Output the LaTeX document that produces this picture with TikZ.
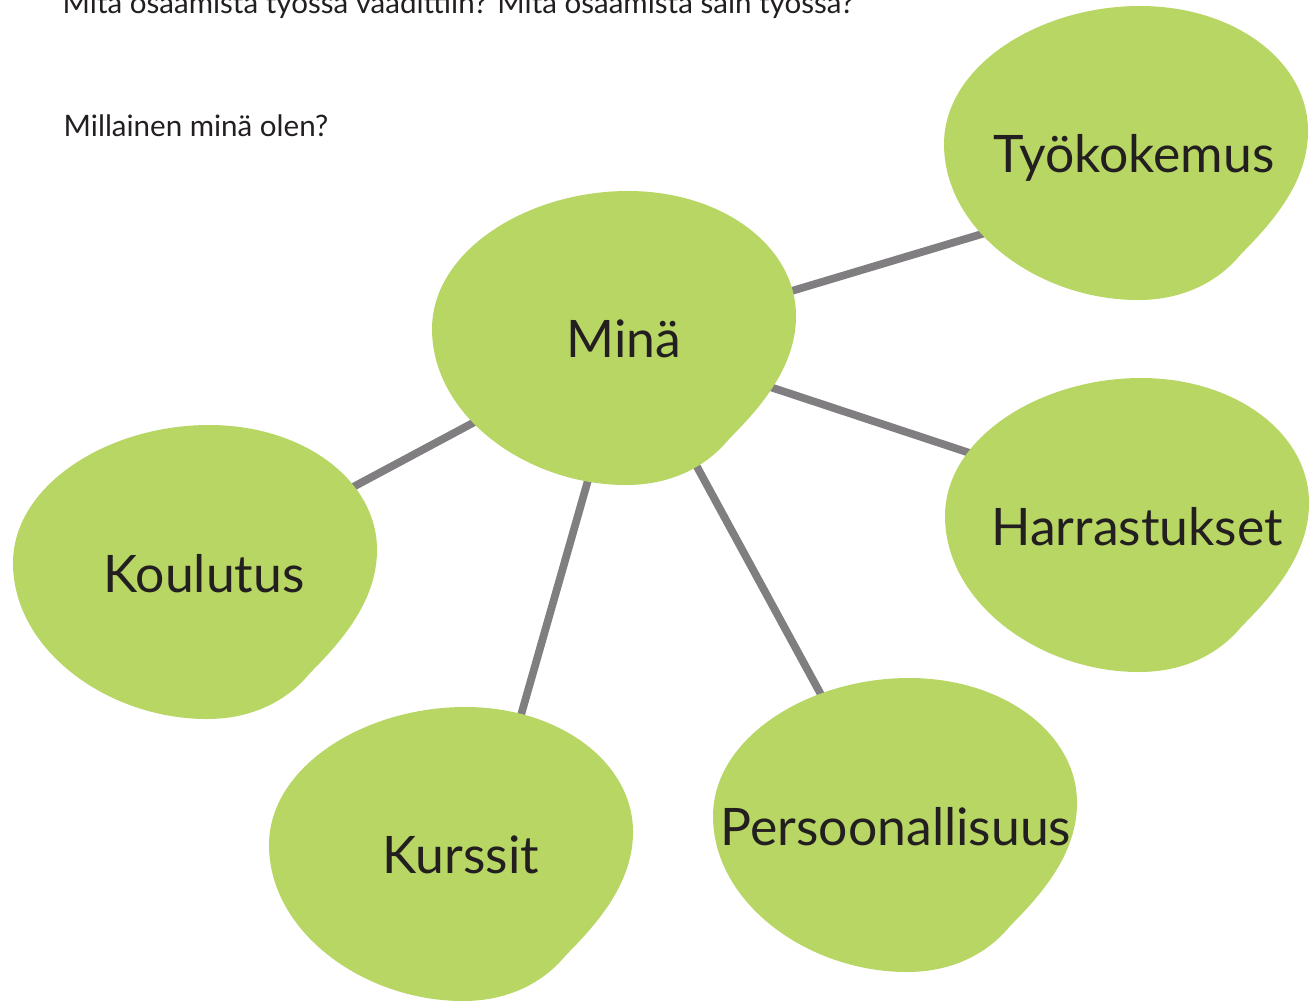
\documentclass[tikz,border=0pt]{standalone}
\usepackage{fontspec}
\setmainfont{Lato}
\definecolor{blobgreen}{RGB}{184,214,99}
\definecolor{linegray}{RGB}{128,126,128}
\definecolor{inkcol}{RGB}{35,31,32}
\newcommand\drawblob[2]{%
  \fill[blobgreen, shift={(#1,#2)}]
    (297,248) .. controls (275,275) and (240,294) .. (194,294)
    .. controls (95,294) and (0,225) .. (0,138)
    .. controls (0,60) and (95,0) .. (196,0)
    .. controls (290,0) and (364,55) .. (364,125)
    .. controls (364,175) and (330,215) .. cycle;}
\tikzset{
  conn/.style={draw=linegray, line width=2.2pt},
  big/.style={anchor=base, text=inkcol, inner sep=0pt, font=\fontsize{14.7}{17}\selectfont},
  small/.style={anchor=base west, text=inkcol, inner sep=0pt, font=\fontsize{8.4}{10}\selectfont}
}
\begin{document}
\begin{tikzpicture}[x=0.01cm, y=-0.01cm]
\clip (0,0) rectangle (1316,1000);
\fill[white] (0,0) rectangle (1316,1000);
% hub and connector ends
\coordinate (hub) at (628,340);
\coordinate (etyo) at (1012,225);
\coordinate (eharr) at (1000,463);
\coordinate (ekoul) at (325,502);
\coordinate (ekurs) at (513,743);
\coordinate (epers) at (837,724);
\draw[conn] (hub) -- (etyo);
\draw[conn] (hub) -- (eharr);
\draw[conn] (hub) -- (ekoul);
\draw[conn] (hub) -- (ekurs);
\draw[conn] (hub) -- (epers);
% blobs
\drawblob{944}{6}
\drawblob{432}{191}
\drawblob{13}{425}
\drawblob{269}{707}
\drawblob{713}{678}
\drawblob{945}{378}
% labels
\node[big] (tyo) at (1134,172) {Työkokemus};
\node[big] (mina) at (624,357) {Minä};
\node[big] (koul) at (204,592) {Koulutus};
\node[big] (kurs) at (461,873) {Kurssit};
\node[big] (pers) at (896,845) {Persoonallisuus};
\node[big] (harr) at (1137,545) {Harrastukset};
\node[small] (q1) at (62,13) {Mitä osaamista työssä vaadittiin? Mitä osaamista sain työssä?};
\node[small] (q2) at (63,136) {Millainen minä olen?};
\end{tikzpicture}
\end{document}
